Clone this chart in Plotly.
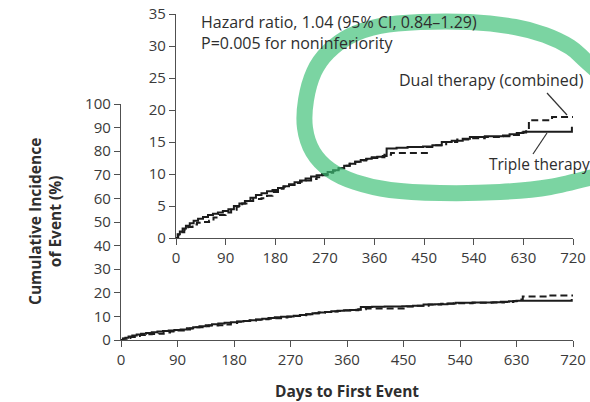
import plotly.graph_objects as go

# Cumulative incidence (%) by day, step functions
triple_days = [0, 3, 7, 12, 18, 25, 32, 40, 49, 58, 67, 76, 85, 95, 105, 115, 125, 135,
               145, 155, 165, 175, 185, 195, 205, 215, 225, 235, 245, 255, 265, 275, 285,
               295, 305, 315, 325, 335, 345, 355, 365, 375, 382, 400, 420, 448, 465, 482,
               500, 520, 533, 560, 593, 605, 618, 630, 718]
triple_pct = [0, 0.6, 1.0, 1.5, 1.9, 2.3, 2.7, 3.0, 3.3, 3.6, 3.8, 4.0, 4.2, 4.5, 5.0, 5.4,
              5.8, 6.3, 6.7, 7.0, 7.3, 7.5, 7.8, 8.1, 8.4, 8.7, 9.0, 9.3, 9.6, 9.8, 10.0,
              10.3, 10.6, 10.9, 11.3, 11.6, 11.9, 12.2, 12.4, 12.6, 12.7, 12.8, 14.0, 14.1,
              14.2, 14.3, 14.5, 15.0, 15.2, 15.5, 15.8, 15.9, 16.0, 16.2, 16.4, 16.6, 17.4]

dual_days = [0, 4, 9, 15, 22, 30, 38, 49, 60, 68, 78, 90, 100, 110, 120, 130, 140, 155,
             165, 175, 185, 195, 205, 215, 225, 235, 245, 255, 265, 275, 285, 295, 305,
             315, 325, 335, 345, 355, 365, 378, 390, 455, 470, 490, 510, 530, 560, 590,
             610, 625, 635, 640, 682, 720]
dual_pct = [0, 0.5, 0.9, 1.3, 1.7, 2.1, 2.4, 2.5, 2.7, 3.2, 3.6, 4.0, 4.4, 4.9, 5.4, 5.8,
            6.1, 6.2, 6.6, 7.2, 7.7, 8.0, 8.3, 8.6, 8.8, 9.0, 9.2, 9.5, 9.8, 10.2, 10.5,
            10.9, 11.3, 11.6, 11.9, 12.1, 12.3, 12.5, 12.6, 13.0, 13.3, 14.2, 14.5, 15.0,
            15.4, 15.6, 15.8, 15.9, 16.1, 16.5, 17.2, 18.4, 18.9, 18.9]

x_ticks = [0, 90, 180, 270, 360, 450, 540, 630, 720]
main_y_ticks = [0, 10, 20, 30, 40, 50, 60, 70, 80, 90, 100]
inset_y_ticks = [0, 5, 10, 15, 20, 25, 30, 35]

W, H = 590, 402
ML, MR, MT, MB = 121, 17, 14, 62
PW, PH = W - ML - MR, H - MT - MB

def px(x):
    return (x - ML) / PW

def py(y):
    return (H - MB - y) / PH

FONT = "Open Sans"
TXT = "#2e2e2e"
AX = "#505050"

fig = go.Figure()

line_solid = dict(color="#1c1c1c", width=2.0, shape="hv")
line_dash = dict(color="#1c1c1c", width=2.0, shape="hv", dash="7px,4px")

for xa, ya in (("x", "y"), ("x2", "y2")):
    fig.add_trace(go.Scatter(x=triple_days, y=triple_pct, mode="lines", line=line_solid,
                             xaxis=xa, yaxis=ya, showlegend=False, name="Triple therapy"))
    fig.add_trace(go.Scatter(x=dual_days, y=dual_pct, mode="lines", line=line_dash,
                             xaxis=xa, yaxis=ya, showlegend=False,
                             name="Dual therapy (combined)"))

axis_common = dict(showgrid=False, zeroline=False, showline=True, linecolor=AX, linewidth=1.3,
                   ticks="outside", ticklen=6, tickwidth=1.3, tickcolor=AX, automargin=False,
                   tickfont=dict(family=FONT, size=15, color="#3a3a3a"))

main_top = py(104)
inset_bottom = py(238)
inset_left = px(176)

fig.update_layout(
    width=W, height=H,
    margin=dict(l=ML, r=MR, t=MT, b=MB, autoexpand=False),
    paper_bgcolor="white", plot_bgcolor="rgba(0,0,0,0)",
    xaxis=dict(domain=[0, 1], range=[0, 720], tickvals=x_ticks, anchor="y", **axis_common),
    yaxis=dict(domain=[0, main_top], range=[0, 100], tickvals=main_y_ticks, anchor="x",
               **axis_common),
    xaxis2=dict(domain=[inset_left, 1], range=[0, 720], tickvals=x_ticks, anchor="y2",
                **axis_common),
    yaxis2=dict(domain=[inset_bottom, 1], range=[0, 35], tickvals=inset_y_ticks, anchor="x2",
                **axis_common),
)

def note(text, x, y, xanchor="left", size=16, bold=False, angle=0):
    fig.add_annotation(text=f"<b>{text}</b>" if bold else text, x=px(x), y=py(y),
                       xref="paper", yref="paper", xanchor=xanchor, yanchor="middle",
                       showarrow=False, textangle=angle,
                       font=dict(family=FONT, size=size, color=TXT))

note("Hazard ratio, 1.04 (95% CI, 0.84\u20131.29)", 199, 22)
note("P=0.005 for noninferiority", 199, 43)
note("Dual therapy (combined)", 397, 80)
note("Triple therapy", 487, 164, size=15.5)
note("Days to First Event", 347, 391, xanchor="center", size=15.5, bold=True)
note("Cumulative Incidence<br>of Event (%)", 45, 222, xanchor="center", size=15.5, bold=True,
     angle=-90)

# leader lines to the curves
for (x0, y0, x1, y1) in ((547, 93, 567, 115), (547, 133, 533, 154)):
    fig.add_shape(type="line", xref="paper", yref="paper", x0=px(x0), y0=py(y0),
                  x1=px(x1), y1=py(y1), line=dict(color="#333333", width=1.2))

# hand-drawn highlight loop
loop = [(605, 78), (585, 60), (570, 47), (545, 35), (515, 27), (470, 22), (420, 22),
        (380, 26), (350, 36), (328, 52), (314, 72), (306, 100), (305, 128), (313, 152),
        (330, 170), (355, 182), (390, 190), (440, 193), (500, 192), (550, 187), (605, 174)]
pts = [(px(a), py(b)) for a, b in loop]
path = f"M {pts[0][0]},{pts[0][1]}"
for i in range(len(pts) - 1):
    p0 = pts[i - 1] if i > 0 else pts[i]
    p1, p2 = pts[i], pts[i + 1]
    p3 = pts[i + 2] if i + 2 < len(pts) else pts[i + 1]
    c1 = (p1[0] + (p2[0] - p0[0]) / 6, p1[1] + (p2[1] - p0[1]) / 6)
    c2 = (p2[0] - (p3[0] - p1[0]) / 6, p2[1] - (p3[1] - p1[1]) / 6)
    path += f" C {c1[0]},{c1[1]} {c2[0]},{c2[1]} {p2[0]},{p2[1]}"
fig.add_shape(type="path", path=path, xref="paper", yref="paper", layer="above",
              line=dict(color="rgba(60,192,118,0.68)", width=16))

fig.write_html("out.html")
